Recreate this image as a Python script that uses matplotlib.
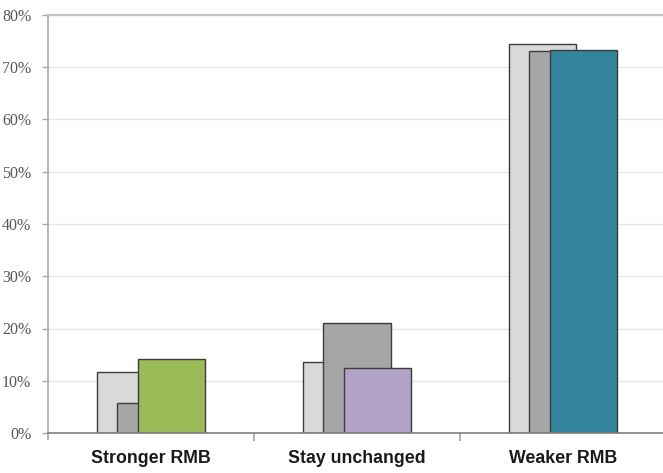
import matplotlib
matplotlib.use("Agg")
import matplotlib.pyplot as plt
from matplotlib.ticker import FixedLocator, FuncFormatter
import numpy as np

# Survey outcome categories and the share of respondents (%) in three rounds
categories = ["Stronger RMB", "Stay unchanged", "Weaker RMB"]
round_1 = [11.7, 13.6, 74.4]
round_2 = [5.7, 21.0, 73.1]
round_3 = [14.1, 12.4, 73.3]
round_3_colors = ["#9BBB59", "#B3A2C7", "#31849B"]
y_ticks = [0, 10, 20, 30, 40, 50, 60, 70, 80]

fig = plt.figure(figsize=(6.63, 4.73), dpi=100)
ax = fig.add_axes([48 / 663, 40 / 473, 618 / 663, 418 / 473])

x = np.arange(len(categories))
width = 0.326
step = 0.1
edge = "#3C3C3C"

ax.bar(x - step, round_1, width, color="#D9D9D9", edgecolor=edge, linewidth=1.0, zorder=3)
ax.bar(x, round_2, width, color="#A6A6A6", edgecolor=edge, linewidth=1.0, zorder=4)
ax.bar(x + step, round_3, width, color=round_3_colors, edgecolor=edge, linewidth=1.0, zorder=5)

ax.set_xlim(-0.5, 2.5)
ax.set_ylim(0, 80)

# y axis: percentage labels in a serif face
ax.yaxis.set_major_locator(FixedLocator(y_ticks))
ax.yaxis.set_major_formatter(FuncFormatter(lambda v, p: f"{int(v)}%"))
ax.tick_params(axis="y", length=4, width=1, color="#A8A8A8", pad=8,
               labelsize=11.5, labelcolor="#555555")
for lab in ax.get_yticklabels():
    lab.set_family(["Liberation Serif", "DejaVu Serif"])

# x axis: category names centred, ticks at category boundaries
ax.set_xticks(x)
ax.set_xticklabels(categories)
ax.set_xticks([0.5, 1.5], minor=True)
ax.tick_params(axis="x", which="major", length=0, pad=12,
               labelsize=12.8, labelcolor="#1A1A1A")
ax.tick_params(axis="x", which="minor", length=6, width=1.2, color="#A0A0A0")
for lab in ax.get_xticklabels():
    lab.set_family(["Liberation Sans", "DejaVu Sans"])
    lab.set_fontweight("bold")

ax.yaxis.grid(True, color="#E6E6E6", linewidth=1.0, zorder=0)
ax.set_axisbelow(True)

ax.spines["right"].set_visible(False)
ax.spines["top"].set_color("#C4C4C4")
ax.spines["top"].set_linewidth(1.6)
ax.spines["bottom"].set_color("#7F7F7F")
ax.spines["bottom"].set_linewidth(1.2)
ax.spines["bottom"].set_zorder(6)
ax.spines["left"].set_color("#B4B4B4")
ax.spines["left"].set_linewidth(1.4)
ax.spines["left"].set_bounds(-1.2, 80)

fig.savefig("out.png", dpi=100)
